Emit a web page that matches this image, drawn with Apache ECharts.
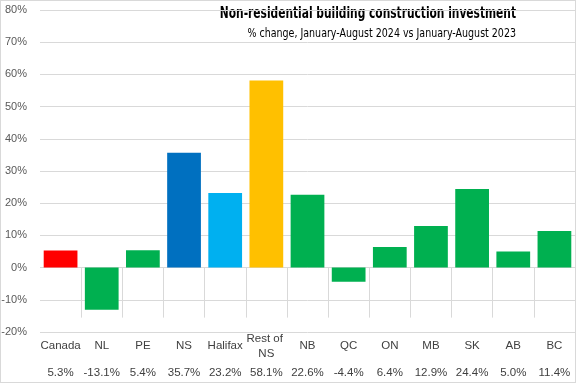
<!DOCTYPE html>
<html>
<head>
<meta charset="utf-8">
<script src="https://cdn.jsdelivr.net/npm/echarts@6/dist/echarts.min.js"></script>
<style>
html,body{margin:0;padding:0;background:#fff;}
#wrap{position:absolute;left:0;top:0;width:574px;height:381px;border:1px solid #d9d9d9;}
#chart{position:absolute;left:0;top:0;width:577px;height:385px;}
</style>
</head>
<body>
<div id="wrap"></div>
<div id="chart"></div>
<script>
const categories = ['Canada','NL','PE','NS','Halifax','Rest of NS','NB','QC','ON','MB','SK','AB','BC'];
const values = [5.3, -13.1, 5.4, 35.7, 23.2, 58.1, 22.6, -4.4, 6.4, 12.9, 24.4, 5.0, 11.4];
const valueLabels = ['5.3%','-13.1%','5.4%','35.7%','23.2%','58.1%','22.6%','-4.4%','6.4%','12.9%','24.4%','5.0%','11.4%'];
const yTicks = [-20, -10, 0, 10, 20, 30, 40, 50, 60, 70, 80];
const titleText = 'Non-residential building construction investment';
const subtitleText = '% change, January-August 2024 vs January-August 2023';

const colorMap = {Canada:'#FF0000', NS:'#0070C0', Halifax:'#00B0F0', 'Rest of NS':'#FFC000'};
const defaultColor = '#00B050';
const font = '"Liberation Sans", Arial, sans-serif';
const narrow = '"DejaVu Sans Condensed", "Liberation Sans", sans-serif';

const chart = echarts.init(document.getElementById('chart'), null, {renderer:'canvas'});
chart.setOption({
  animation: false,
  backgroundColor: 'transparent',
  graphic: [{
    type: 'text', x: 516, y: 14, scaleX: 0.74,
    style: {text: titleText, align: 'right', verticalAlign: 'middle',
            font: 'bold 16px ' + narrow, fill: '#000'}
  }, {
    type: 'text', x: 516, y: 34, scaleX: 0.88,
    style: {text: subtitleText, align: 'right', verticalAlign: 'middle',
            font: '12px ' + narrow, fill: '#000'}
  }],
  grid: {left: 40, right: 2, top: 10, bottom: 53, containLabel: false, outerBoundsMode: 'none'},
  xAxis: [{
    type: 'category',
    data: categories,
    position: 'bottom',
    axisLine: {show: false},
    axisTick: {show: true, length: 50, lineStyle: {color: '#d9d9d9', width: 1},
               interval: (i) => i !== 0},
    axisLabel: {interval: 0, margin: 14, verticalAlign: 'middle', width: 44, overflow: 'break',
                fontFamily: font, fontSize: 11.5, color: '#404040', lineHeight: 15}
  }, {
    type: 'category',
    data: valueLabels,
    position: 'bottom',
    axisLine: {show: false},
    axisTick: {show: false},
    axisLabel: {interval: 0, margin: 41, verticalAlign: 'middle',
                fontFamily: font, fontSize: 11.5, color: '#404040'}
  }],
  yAxis: {
    type: 'value',
    min: yTicks[0], max: yTicks[yTicks.length - 1], interval: 10,
    axisLine: {show: false},
    axisTick: {show: false},
    splitLine: {lineStyle: {color: '#d9d9d9', width: 1}},
    axisLabel: {margin: 13, fontFamily: font, fontSize: 11, color: '#595959',
                formatter: v => v + '%'}
  },
  series: [{
    type: 'bar',
    xAxisIndex: 0,
    barCategoryGap: '18%',
    data: values.map((v, i) => ({value: v, itemStyle: {color: colorMap[categories[i]] || defaultColor}}))
  }]
});
</script>
</body>
</html>
